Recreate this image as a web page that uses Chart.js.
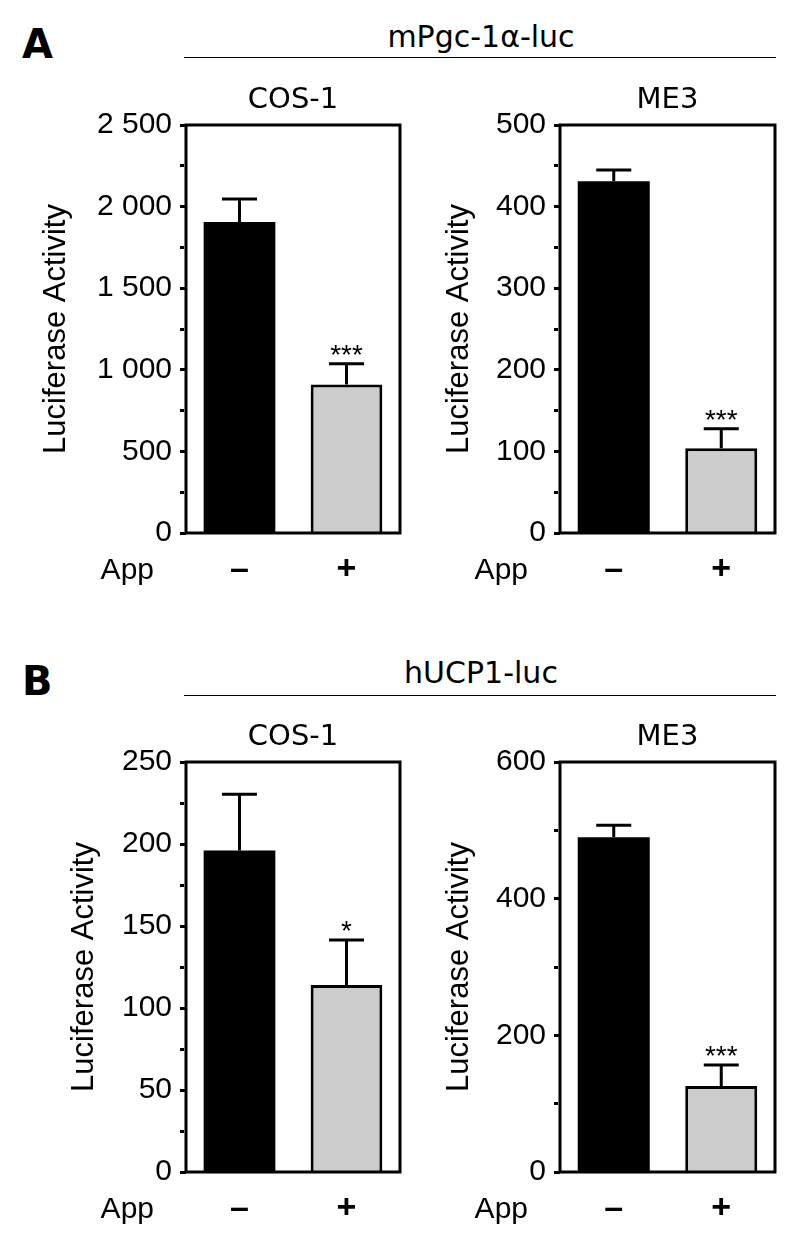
<!DOCTYPE html>
<html>
<head>
<meta charset="utf-8">
<script src="https://cdn.jsdelivr.net/npm/chart.js@4.4.0/dist/chart.umd.min.js"></script>
<style>
  body { margin: 0; background: #fff; }
  #page { position: relative; width: 800px; height: 1244px; overflow: hidden; font-family: "DejaVu Sans", sans-serif; color: #000; }
  canvas { position: absolute; }
  .letter { position: absolute; left: 22px; font-weight: bold; font-size: 40px; line-height: 40px; }
  .header { position: absolute; left: 186px; width: 590px; font-size: 30px; line-height: 30px; text-align: center; }
  .rule { position: absolute; left: 184px; width: 592px; height: 0; border-top: 1.5px solid #000; }
</style>
</head>
<body>
<div id="page">
  <div class="letter" style="top:24px">A</div>
  <div class="header" style="top:22px">mPgc-1α-luc</div>
  <div class="rule" style="top:57px"></div>

  <div class="letter" style="top:661px">B</div>
  <div class="header" style="top:658px">hUCP1-luc</div>
  <div class="rule" style="top:695px"></div>

  <canvas id="pgcCos" width="410" height="560" style="left:0;top:60px"></canvas>
  <canvas id="pgcMe3" width="400" height="560" style="left:400px;top:60px"></canvas>
  <canvas id="ucpCos" width="410" height="544" style="left:0;top:700px"></canvas>
  <canvas id="ucpMe3" width="400" height="544" style="left:400px;top:700px"></canvas>
</div>

<script>
// ---- data ----
const appLabels = ['–', '+'];

// A: mPgc-1α-luc
const pgcCosMean  = [1905, 910];
const pgcCosSem   = [148, 133];
const pgcCosStars = ['', '***'];
const pgcCosTicks = [0, 500, 1000, 1500, 2000, 2500];

const pgcMe3Mean  = [431, 104];
const pgcMe3Sem   = [15, 25];
const pgcMe3Stars = ['', '***'];
const pgcMe3Ticks = [0, 100, 200, 300, 400, 500];

// B: hUCP1-luc
const ucpCosMean  = [196, 114];
const ucpCosSem   = [35, 28];
const ucpCosStars = ['', '*'];
const ucpCosTicks = [0, 50, 100, 150, 200, 250];

const ucpMe3Mean  = [490, 126];
const ucpMe3Sem   = [19, 32];
const ucpMe3Stars = ['', '***'];
const ucpMe3Ticks = [0, 200, 400, 600];

const barColors = ['#000000', '#cccccc'];
const SANS = '"Liberation Sans", Arial, sans-serif';
const VERD = '"DejaVu Sans", Verdana, sans-serif';

function fmt(v) {
    return String(v).replace(/\B(?=(\d{3})+(?!\d))/g, ' ');
}

// frame around the plot area
const framePlugin = {
    id: 'frame',
    afterDatasetsDraw(chart) {
        const a = chart.chartArea, ctx = chart.ctx;
        ctx.save();
        ctx.lineWidth = 3;
        ctx.strokeStyle = '#000';
        ctx.strokeRect(a.left, a.top, a.right - a.left, a.bottom - a.top);
        ctx.restore();
    }
};

// SEM bars + significance stars + panel title + "App"
const extrasPlugin = {
    id: 'extras',
    afterDraw(chart, args, opts) {
        const ctx = chart.ctx, a = chart.chartArea;
        const yScale = chart.scales.y;
        const meta = chart.getDatasetMeta(0);
        ctx.save();
        ctx.strokeStyle = '#000';
        ctx.fillStyle = '#000';
        ctx.lineWidth = 3;
        meta.data.forEach((bar, i) => {
            const top = yScale.getPixelForValue(opts.mean[i] + opts.sem[i]);
            ctx.beginPath();
            ctx.moveTo(bar.x, bar.y);
            ctx.lineTo(bar.x, top);
            ctx.moveTo(bar.x - 17.5, top + 1);
            ctx.lineTo(bar.x + 17.5, top + 1);
            ctx.stroke();
            if (opts.stars[i]) {
                ctx.font = '28px ' + SANS;
                ctx.textAlign = 'center';
                ctx.textBaseline = 'alphabetic';
                ctx.fillText(opts.stars[i], bar.x, top + 1);
            }
        });
        // panel title
        ctx.font = '29px ' + VERD;
        ctx.textAlign = 'center';
        ctx.textBaseline = 'alphabetic';
        ctx.fillText(opts.title, (a.left + a.right) / 2, a.top - 17);
        // App label
        ctx.font = '30px ' + SANS;
        ctx.textAlign = 'right';
        ctx.fillText('App', a.left - 32, a.bottom + 46);
        ctx.restore();
    }
};

function makePanel(id, mean, sem, stars, ticks, title, axisW, titlePad, pad) {
    const major = ticks[1] - ticks[0];
    new Chart(document.getElementById(id), {
        type: 'bar',
        data: {
            labels: appLabels,
            datasets: [{
                data: mean,
                backgroundColor: barColors,
                borderColor: '#000',
                borderWidth: [0, 3],
                borderSkipped: 'bottom',
                categoryPercentage: 1,
                barPercentage: 0.67
            }]
        },
        options: {
            responsive: false,
            animation: false,
            layout: { padding: pad },
            plugins: {
                legend: { display: false },
                tooltip: { enabled: false },
                extras: { mean: mean, sem: sem, stars: stars, title: title }
            },
            scales: {
                x: {
                    offset: true,
                    afterFit: s => { s.height = 60; },
                    border: { display: false },
                    grid: { display: false, drawTicks: false },
                    ticks: { color: '#000', padding: 16, font: { family: SANS, size: 34, weight: 'bold' } }
                },
                y: {
                    min: 0,
                    max: ticks[ticks.length - 1],
                    afterFit: s => { s.width = axisW; },
                    border: { display: false },
                    grid: {
                        drawOnChartArea: false,
                        drawTicks: true,
                        tickLength: 6,
                        tickWidth: 3,
                        tickColor: '#000',
                        // minor ticks drawn shorter
                        tickBorderDash: c => (c.tick && c.tick.value % major !== 0 ? [4, 20] : [])
                    },
                    ticks: {
                        stepSize: major / 2,
                        autoSkip: false,
                        padding: 8,
                        color: '#000',
                        font: { family: SANS, size: 30 },
                        callback: v => (v % major === 0 ? fmt(v) : '')
                    },
                    title: {
                        display: true,
                        text: 'Luciferase Activity',
                        color: '#000',
                        font: { family: SANS, size: 31 },
                        padding: { top: titlePad, bottom: 0 }
                    }
                }
            }
        },
        plugins: [framePlugin, extrasPlugin]
    });
}

makePanel('pgcCos', pgcCosMean, pgcCosSem, pgcCosStars, pgcCosTicks, 'COS-1', 186, 38, { left: 0, right: 10, top: 65, bottom: 27 });
makePanel('pgcMe3', pgcMe3Mean, pgcMe3Sem, pgcMe3Stars, pgcMe3Ticks, 'ME3', 160, 41, { left: 0, right: 25, top: 65, bottom: 27 });
makePanel('ucpCos', ucpCosMean, ucpCosSem, ucpCosStars, ucpCosTicks, 'COS-1', 186, 66, { left: 0, right: 10, top: 62, bottom: 12 });
makePanel('ucpMe3', ucpMe3Mean, ucpMe3Sem, ucpMe3Stars, ucpMe3Ticks, 'ME3', 160, 41, { left: 0, right: 25, top: 62, bottom: 12 });
</script>
</body>
</html>
